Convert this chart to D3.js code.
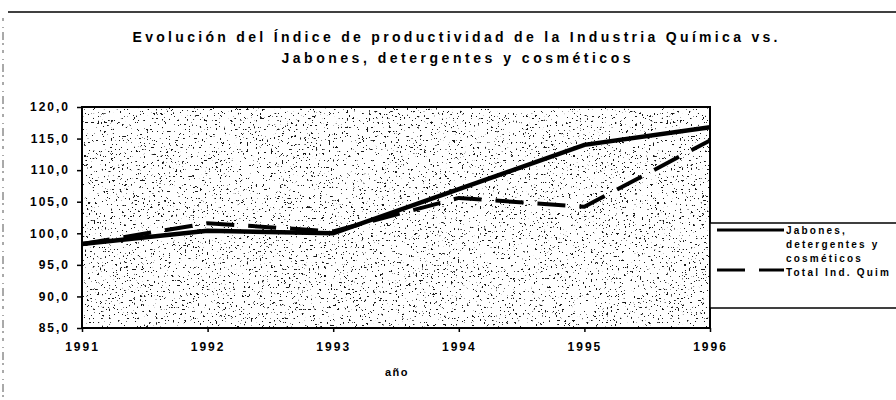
<!DOCTYPE html>
<html><head><meta charset="utf-8">
<script src="https://cdn.jsdelivr.net/npm/d3@7/dist/d3.min.js"></script>
<style>
html,body{margin:0;padding:0;background:#fff;}
svg{display:block;font-family:Arial,"Liberation Sans",sans-serif;font-weight:bold;}
</style></head>
<body>
<svg id="c" width="896" height="400"></svg>
<script>
const years = [1991, 1992, 1993, 1994, 1995, 1996];
const jabones = [98.3, 100.4, 100.0, 107.0, 114.0, 116.8];
const totalQuim = [98.3, 101.6, 100.3, 105.6, 104.2, 114.7];
const yTicks = [85, 90, 95, 100, 105, 110, 115, 120];
const titleLines = ["Evolución del Índice de productividad de la Industria Química vs.", "Jabones, detergentes y cosméticos"];
const seriesNames = [["Jabones,", "detergentes y", "cosméticos"], ["Total Ind. Quim"]];
const xLabel = "año";

const svg = d3.select("#c");
const W = 896, H = 400;
const m = {l: 82, r: 710, t: 107, b: 328};

const x = d3.scaleLinear().domain([1991, 1996]).range([m.l, m.r]);
const y = d3.scaleLinear().domain([85, 120]).range([m.b, m.t]);

// outer frame lines
svg.append("line").attr("x1", 8).attr("x2", W).attr("y1", 12).attr("y2", 12)
  .attr("stroke", "#000").attr("stroke-width", 1.5);
svg.append("line").attr("x1", 3).attr("x2", 3).attr("y1", 18).attr("y2", H)
  .attr("stroke", "#555").attr("stroke-width", 1).attr("stroke-dasharray", "3 6 1 4 8 3 2 5");

// stipple texture
const defs = svg.append("defs");
const f = defs.append("filter").attr("id", "stip").attr("x", 0).attr("y", 0).attr("width", 1).attr("height", 1)
  .attr("color-interpolation-filters", "sRGB");
f.append("feTurbulence").attr("type", "fractalNoise").attr("baseFrequency", "0.45").attr("numOctaves", 3).attr("seed", 11).attr("result", "n");
f.append("feColorMatrix").attr("in", "n").attr("type", "matrix")
  .attr("values", "0 0 0 0 0  0 0 0 0 0  0 0 0 0 0  1 0 0 0 0").attr("result", "a");
f.append("feComponentTransfer").attr("in", "a")
  .append("feFuncA").attr("type", "linear").attr("slope", 25).attr("intercept", -16.9);

svg.append("rect").attr("x", m.l).attr("y", m.t).attr("width", m.r - m.l).attr("height", m.b - m.t).attr("fill", "#fff");
svg.append("rect").attr("x", m.l).attr("y", m.t).attr("width", m.r - m.l).attr("height", m.b - m.t)
  .attr("fill", "#000").attr("filter", "url(#stip)").attr("opacity", 0.9);

// title
const title = svg.append("g");
title.append("text").attr("x", 455).attr("y", 42).attr("text-anchor", "middle")
  .attr("font-size", 14).attr("textLength", 645).attr("lengthAdjust", "spacing").text(titleLines[0]);
title.append("text").attr("x", 456).attr("y", 63).attr("text-anchor", "middle")
  .attr("font-size", 14).attr("textLength", 349).attr("lengthAdjust", "spacing").text(titleLines[1]);

// axes
const fmt = v => d3.format(".1f")(v).replace(".", ",");
const yAxis = svg.append("g").attr("transform", `translate(${m.l},0)`)
  .call(d3.axisLeft(y).tickValues(yTicks).tickSize(5).tickFormat(fmt));
yAxis.select(".domain").remove();
yAxis.selectAll("line").attr("stroke", "#000").attr("stroke-width", 1.5);
yAxis.selectAll("text").attr("font-size", 12).attr("font-family", "Arial,'Liberation Sans',sans-serif")
  .attr("font-weight", "bold").attr("letter-spacing", 2).attr("x", -12).attr("fill", "#000");

const xAxis = svg.append("g").attr("transform", `translate(0,${m.b})`)
  .call(d3.axisBottom(x).tickValues(years).tickSize(4).tickFormat(d3.format("d")));
xAxis.select(".domain").remove();
xAxis.selectAll("line").attr("stroke", "#000").attr("stroke-width", 1.5);
xAxis.selectAll("text").attr("font-size", 12).attr("font-family", "Arial,'Liberation Sans',sans-serif")
  .attr("font-weight", "bold").attr("letter-spacing", 2).attr("y", 14).attr("fill", "#000");

svg.append("text").attr("x", 397).attr("y", 376).attr("text-anchor", "middle")
  .attr("font-size", 11).attr("letter-spacing", 1.5).text(xLabel);

// lines
const line = d3.line().x((d, i) => x(years[i])).y(d => y(d));
svg.append("path").datum(totalQuim).attr("d", line).attr("fill", "none")
  .attr("stroke", "#000").attr("stroke-width", 4).attr("stroke-dasharray", "28 14");
svg.append("path").datum(jabones).attr("d", line).attr("fill", "none")
  .attr("stroke", "#000").attr("stroke-width", 4.5);

// plot border
svg.append("rect").attr("x", m.l).attr("y", m.t).attr("width", m.r - m.l).attr("height", m.b - m.t)
  .attr("fill", "none").attr("stroke", "#000").attr("stroke-width", 2);

// legend
const lg = svg.append("g");
lg.append("rect").attr("x", m.r).attr("y", 223).attr("width", W - m.r + 10).attr("height", 85)
  .attr("fill", "#fff").attr("stroke", "#000").attr("stroke-width", 1.5);
lg.append("line").attr("x1", 717).attr("x2", 784).attr("y1", 230).attr("y2", 230)
  .attr("stroke", "#000").attr("stroke-width", 3);
lg.append("line").attr("x1", 717).attr("x2", 784).attr("y1", 270).attr("y2", 270)
  .attr("stroke", "#000").attr("stroke-width", 3).attr("stroke-dasharray", "28 14");
seriesNames[0].forEach((t, i) => {
  lg.append("text").attr("x", 786).attr("y", 234 + i * 14).attr("font-size", 10)
    .attr("letter-spacing", 2.2).text(t);
});
lg.append("text").attr("x", 786).attr("y", 276).attr("font-size", 10)
  .attr("letter-spacing", 2.2).text(seriesNames[1][0]);
</script>
</body></html>
